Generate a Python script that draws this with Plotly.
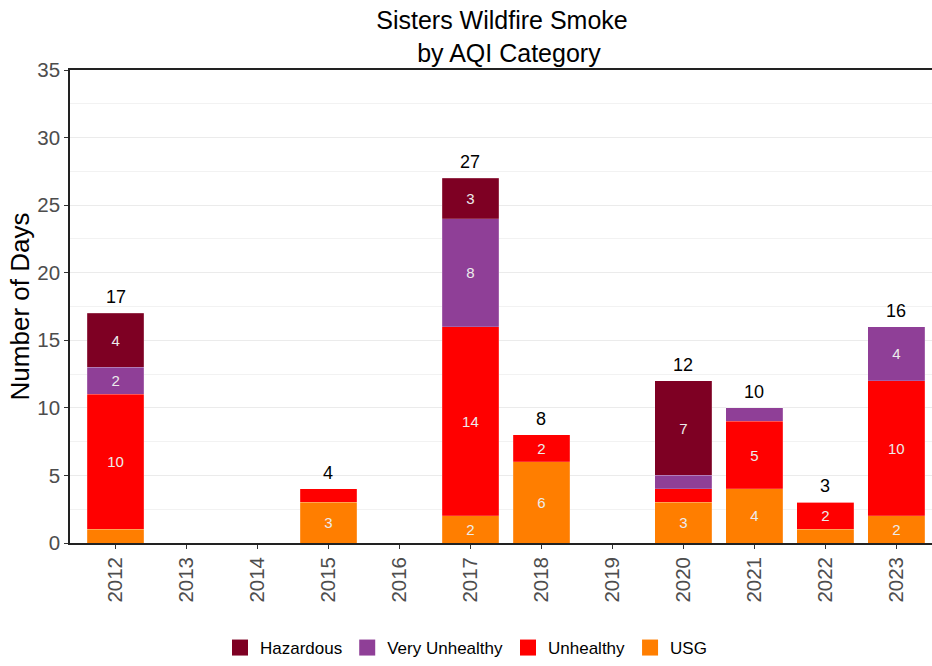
import plotly.graph_objects as go

years = ["2012", "2013", "2014", "2015", "2016", "2017", "2018", "2019", "2020", "2021", "2022", "2023"]
usg = [1, 0, 0, 3, 0, 2, 6, 0, 3, 4, 1, 2]
unhealthy = [10, 0, 0, 1, 0, 14, 2, 0, 1, 5, 2, 10]
very_unhealthy = [2, 0, 0, 0, 0, 8, 0, 0, 1, 1, 0, 4]
hazardous = [4, 0, 0, 0, 0, 3, 0, 0, 7, 0, 0, 0]

categories = ["USG", "Unhealthy", "Very Unhealthy", "Hazardous"]
series = [usg, unhealthy, very_unhealthy, hazardous]
colors = {"USG": "#FF7E00", "Unhealthy": "#FF0000",
          "Very Unhealthy": "#8F3F97", "Hazardous": "#7E0023"}

totals = [sum(v) for v in zip(*series)]

FONT = "Arial, 'Liberation Sans', sans-serif"

fig = go.Figure()
for name, vals in zip(categories, series):
    labels = [str(v) if v >= 2 else "" for v in vals]
    fig.add_trace(go.Bar(
        x=years, y=vals, name=name, text=labels,
        texttemplate="%{text}", textposition="inside",
        insidetextanchor="middle", textangle=0,
        textfont=dict(color="#ececec", size=15, family=FONT),
        marker=dict(color=colors[name],
                    line=dict(color="rgba(255,255,255,0.35)", width=0.5)),
        width=0.8, showlegend=False, hoverinfo="skip",
    ))

# legend entries (top-to-bottom stacking order as in reference)
for name in ["Hazardous", "Very Unhealthy", "Unhealthy", "USG"]:
    fig.add_trace(go.Scatter(
        x=[None], y=[None], mode="markers", name=name,
        marker=dict(symbol="square", size=22, color=colors[name]),
        showlegend=True,
    ))

# totals above bars (x = category index on the category axis)
for i, t in enumerate(totals):
    if t > 0:
        fig.add_annotation(x=i, y=t, xref="x", yref="y", text=str(t),
                           showarrow=False, yanchor="bottom", yshift=4,
                           font=dict(size=18, color="black", family=FONT))

fig.update_layout(
    width=932, height=666,
    margin=dict(l=70, r=0, t=70, b=122),
    paper_bgcolor="white", plot_bgcolor="white",
    barmode="stack",
    font=dict(family=FONT),
    title=dict(text="Sisters Wildfire Smoke<br>&nbsp;&nbsp;by AQI Category",
               x=(502 - 70) / 862, xref="paper", xanchor="center",
               y=1, yref="paper", yanchor="bottom", pad=dict(b=41),
               font=dict(size=25, color="black", family=FONT)),
    legend=dict(orientation="h", x=(466 - 70) / 862, xanchor="center",
                y=-0.222, yanchor="middle", traceorder="normal",
                font=dict(size=17, color="black", family=FONT),
                itemsizing="trace"),
    xaxis=dict(
        type="category", categoryorder="array", categoryarray=years,
        range=[-0.642, 11.503],
        showline=True, linecolor="#222", linewidth=1.6, mirror=True,
        ticks="outside", ticklen=4, tickcolor="#333",
        tickangle=-90, tickfont=dict(size=20.5, color="#4d4d4d", family=FONT),
        showgrid=False, zeroline=False,
    ),
    yaxis=dict(
        range=[0, 35], tickvals=[0, 5, 10, 15, 20, 25, 30, 35],
        showline=True, linecolor="#222", linewidth=1.6,
        ticks="outside", ticklen=4, tickcolor="#333",
        tickfont=dict(size=20.5, color="#4d4d4d", family=FONT),
        showgrid=True, gridcolor="#ebebeb", gridwidth=1,
        minor=dict(dtick=2.5, tick0=0, showgrid=True, gridcolor="#f2f2f2", gridwidth=1),
        zeroline=False,
        title=dict(text="Number of Days", standoff=0,
                   font=dict(size=26, color="black", family=FONT)),
    ),
)

fig.write_html("out.html", config={"displayModeBar": False},
               post_script="document.body.style.margin='0';")
